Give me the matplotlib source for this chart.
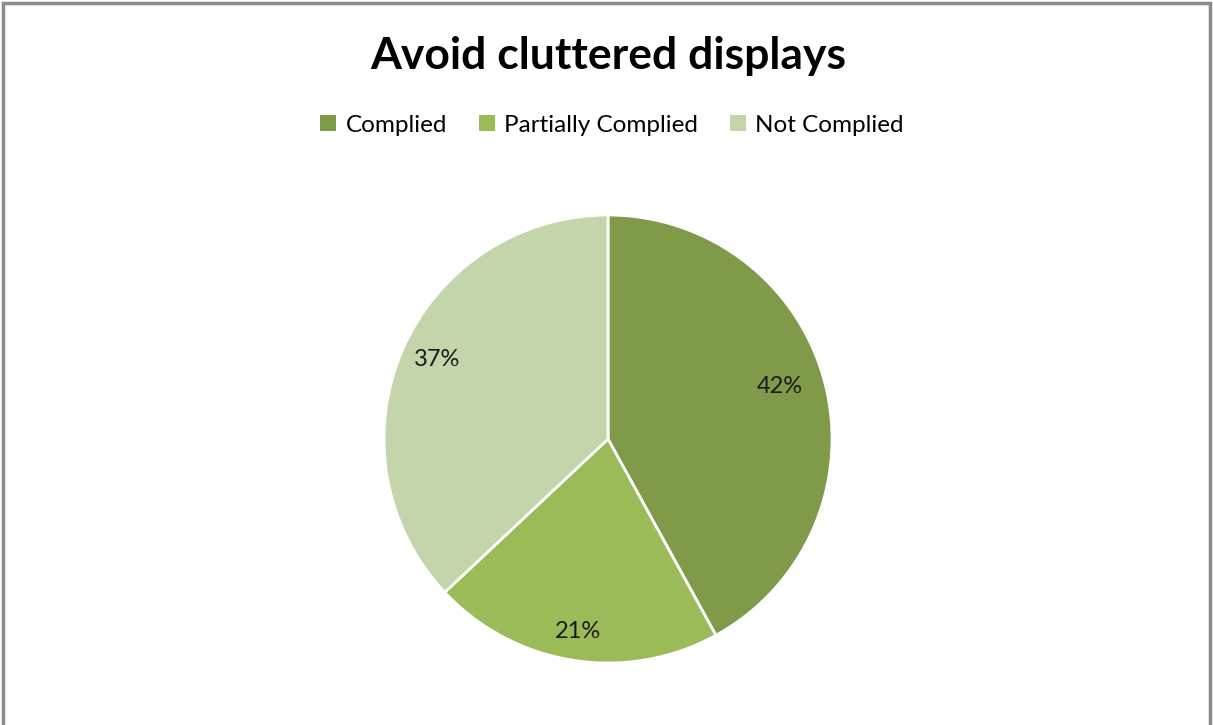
import matplotlib
matplotlib.use("Agg")
import numpy as np
import matplotlib.pyplot as plt
from matplotlib.patches import Rectangle, Patch

categories = ["Complied", "Partially Complied", "Not Complied"]
values = [42, 21, 37]
colors = ["#7F9B4A", "#9BBB59", "#C5D5AB"]
title = "Avoid cluttered displays"

W, H = 1213, 725
fig = plt.figure(figsize=(W / 100, H / 100), dpi=100)
plt.rcParams["font.family"] = ["Lato", "DejaVu Sans"]

# outer chart frame (open at the bottom edge)
fig.add_artist(Rectangle((3 / W, -0.05), (1210 - 3) / W, 1.05 - 3 / H,
                         transform=fig.transFigure, fill=False,
                         edgecolor="#8C8C8C", linewidth=2.5))

cx, cy, r = 608, 439, 224
ax = fig.add_axes([(cx - r) / W, (H - cy - r) / H, 2 * r / W, 2 * r / H])

wedges, texts, autotexts = ax.pie(
    values, colors=colors, startangle=90, counterclock=False, radius=1,
    autopct="%d%%", pctdistance=0.84,
    wedgeprops=dict(edgecolor="white", linewidth=2),
    textprops=dict(fontsize=17, color="#1a1a1a"))
ax.set_xlim(-1, 1)
ax.set_ylim(-1, 1)
ax.set_aspect("equal")
ax.axis("off")

# best-fit style label placement: radial distance per wedge
label_dist = [0.80, 0.87, 0.84]
label_turn = [2.5, 0.0, -1.5]
for w, t, d, dt in zip(wedges, autotexts, label_dist, label_turn):
    ang = np.deg2rad((w.theta1 + w.theta2) / 2 + dt)
    t.set_position((d * np.cos(ang), d * np.sin(ang)))

fig.text(cx / W, 1 - 56 / H, title, ha="center", va="center",
         fontsize=32, fontweight="bold", color="black")

handles = [Patch(facecolor=c, edgecolor="none") for c in colors]
fig.legend(handles, categories, loc="center", bbox_to_anchor=(612 / W, 1 - 125 / H),
           ncol=3, frameon=False, fontsize=17.5, handlelength=0.65, handleheight=0.65,
           handletextpad=0.4, columnspacing=1.3)

fig.savefig("out.png", dpi=100)
